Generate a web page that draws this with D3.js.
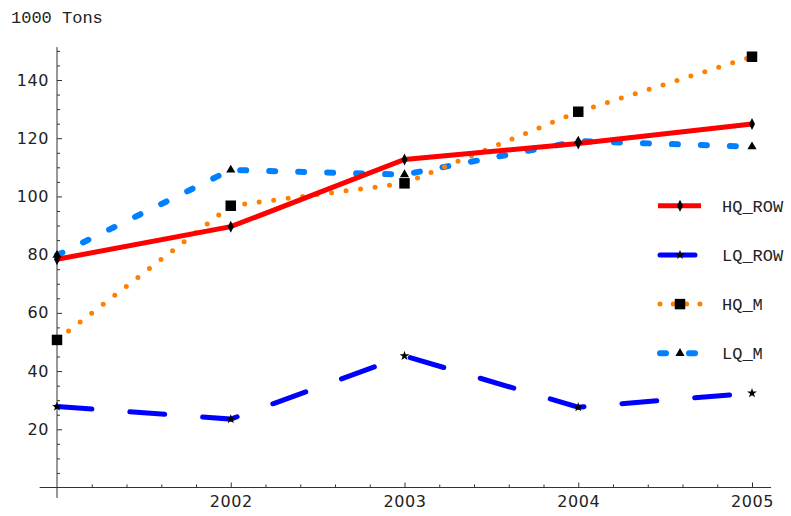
<!DOCTYPE html>
<html>
<head>
<meta charset="utf-8">
<script src="https://cdn.jsdelivr.net/npm/d3@7"></script>
<style>
  body { margin: 0; background: #fff; }
  .tick text { font-family: "DejaVu Sans", sans-serif; font-size: 16px; fill: #222; letter-spacing: 0.6px; }
  .mono { font-family: "Liberation Mono", "Courier New", monospace; font-size: 17px; fill: #222; }
</style>
</head>
<body>
<svg id="chart" width="791" height="516"></svg>
<script>
// data (1000 tons)
const years = [2001, 2002, 2003, 2004, 2005];
const hqRow = [78.4, 89.6, 112.7, 118.2, 124.9];
const lqRow = [27.8, 23.5, 45.2, 27.6, 32.4];
const hqM = [50.7, 96.8, 104.5, 129.1, 148.0];
const lqM = [79.8, 109.1, 107.5, 119.0, 117.1];
const seriesNames = ['HQ_ROW', 'LQ_ROW', 'HQ_M', 'LQ_M'];
const xTickYears = [2002, 2003, 2004, 2005];
const yTickValues = [20, 40, 60, 80, 100, 120, 140];
const yLabel = '1000 Tons';

const svg = d3.select('#chart');

// scales
const x = d3.scaleLinear().domain([2001, 2005]).range([57, 752]);
const y = d3.scaleLinear().domain([0, 140]).range([487.5, 80]);

// series styles
const series = [
    { name: seriesNames[0], values: hqRow, color: '#ff0000', width: 5, dash: null, cap: 'butt', marker: 'diamond' },
    { name: seriesNames[1], values: lqRow, color: '#0000ff', width: 5, dash: '35,38', cap: 'round', marker: 'star' },
    { name: seriesNames[2], values: hqM, color: '#ff8000', width: 5, dash: '0,14.6', cap: 'round', marker: 'square' },
    { name: seriesNames[3], values: lqM, color: '#0080ff', width: 6, dash: '6,23', cap: 'round', marker: 'triangle' }
];

function markerPath(type) {
    if (type === 'diamond') return 'M0,-6L3,0L0,6L-3,0Z';
    if (type === 'star') return d3.symbol(d3.symbolStar, 30)();
    if (type === 'square') return d3.symbol(d3.symbolSquare, 110)();
    return d3.symbol(d3.symbolTriangle, 36)();
}

// axes lines
const axisG = svg.append('g').attr('stroke', '#333').attr('stroke-width', 1);
axisG.append('line')
    .attr('x1', x(2000.9)).attr('x2', x(2005.11))
    .attr('y1', y(0)).attr('y2', y(0));
axisG.append('line')
    .attr('x1', x(2001)).attr('x2', x(2001))
    .attr('y1', y(-3.6)).attr('y2', y(151.3));

// y ticks (pointing inward)
const yMinor = d3.range(5, 151, 5).filter(v => v % 20 !== 0);
svg.append('g')
    .attr('transform', 'translate(' + x(2001) + ',0)')
    .call(d3.axisLeft(y).tickValues(yMinor).tickFormat('').tickSize(-3))
    .call(g => g.select('.domain').remove());
svg.append('g')
    .attr('transform', 'translate(' + x(2001) + ',0)')
    .call(d3.axisLeft(y).tickValues(yTickValues).tickSize(-5).tickPadding(8))
    .call(g => g.select('.domain').remove());

// x ticks
const xMinor = d3.range(1, 20).map(i => 2001 + i * 0.2).filter(v => Math.abs(v - Math.round(v)) > 0.01);
svg.append('g')
    .attr('transform', 'translate(0,' + y(0) + ')')
    .call(d3.axisBottom(x).tickValues(xMinor).tickFormat('').tickSize(-3))
    .call(g => g.select('.domain').remove());
svg.append('g')
    .attr('transform', 'translate(0,' + y(0) + ')')
    .call(d3.axisBottom(x).tickValues(xTickYears).tickFormat(d3.format('d')).tickSize(-5).tickPadding(8))
    .call(g => g.select('.domain').remove());

svg.selectAll('.tick line').attr('stroke', '#333');

// axis label
svg.append('text')
    .attr('class', 'mono')
    .attr('x', 11)
    .attr('y', 23)
    .text(yLabel);

// lines, drawn back to front
const line = d3.line()
    .x((d, i) => x(years[i]))
    .y(d => y(d));

series.slice().reverse().forEach(s => {
    svg.append('path')
        .datum(s.values)
        .attr('d', line)
        .attr('fill', 'none')
        .attr('stroke', s.color)
        .attr('stroke-width', s.width)
        .attr('stroke-linecap', s.cap)
        .attr('stroke-dasharray', s.dash);
});

// markers
series.forEach(s => {
    svg.append('g')
        .selectAll('path')
        .data(s.values)
        .enter()
        .append('path')
        .attr('d', markerPath(s.marker))
        .attr('transform', (d, i) => 'translate(' + x(years[i]) + ',' + y(d) + ')')
        .attr('fill', '#000');
});

// legend
const legend = svg.append('g');
series.forEach((s, i) => {
    const cy = 205.7 + i * 49.2;
    const row = legend.append('g');
    row.append('line')
        .attr('x1', s.cap === 'round' ? 660 : 658).attr('x2', 701)
        .attr('y1', cy).attr('y2', cy)
        .attr('stroke', s.color)
        .attr('stroke-width', s.width)
        .attr('stroke-linecap', s.cap)
        .attr('stroke-dasharray', s.dash === '0,14.6' ? '0,13.3' : s.dash);
    row.append('path')
        .attr('d', markerPath(s.marker))
        .attr('transform', 'translate(680,' + cy + ')')
        .attr('fill', '#000');
    row.append('text')
        .attr('class', 'mono')
        .attr('x', 722)
        .attr('y', cy + 6)
        .text(s.name);
});
</script>
</body>
</html>
